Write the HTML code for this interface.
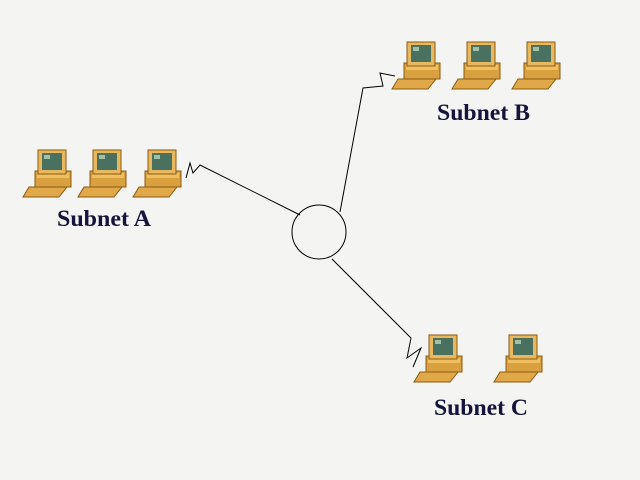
<!DOCTYPE html><html><head><style>body{margin:0;background:#f4f4f2}svg{display:block}text{font-family:"Liberation Serif",serif;font-weight:bold;font-size:23px;fill:#14143c}</style></head><body>
<svg width="640" height="480" viewBox="0 0 640 480">
<defs>
<g id="pc">
<rect x="-4" y="20" width="36" height="16" fill="#d9a040" stroke="#8a5a10" stroke-width="1"/>
<rect x="-2" y="22" width="32" height="5" fill="#f0c060"/>
<polygon points="-10,36 28,36 20,46 -16,46" fill="#e0a848" stroke="#8a5a10" stroke-width="1"/>
<rect x="-1" y="-1" width="28" height="24" fill="#e8b860" stroke="#8a5a10"/>
<rect x="3" y="2" width="20" height="17" fill="#4a7060"/>
<rect x="5" y="4" width="6" height="4" fill="#a0c0a8"/>
</g>
</defs>
<g fill="none" stroke="#000" stroke-width="1">
<circle cx="319" cy="232" r="27"/>
<polyline points="300,215 200,165 193,173 190,163 186,178"/>
<polyline points="340,212 363,88 383,86 380,73 395,76"/>
<polyline points="332,259 411,338 407,358 421,348 413,367"/>
</g>
<use href="#pc" x="39" y="151"/><use href="#pc" x="94" y="151"/><use href="#pc" x="149" y="151"/>
<use href="#pc" x="408" y="43"/><use href="#pc" x="468" y="43"/><use href="#pc" x="528" y="43"/>
<use href="#pc" x="430" y="336"/><use href="#pc" x="510" y="336"/>
<text x="57" y="226" textLength="94" lengthAdjust="spacingAndGlyphs">Subnet A</text>
<text x="437" y="120" textLength="93" lengthAdjust="spacingAndGlyphs">Subnet B</text>
<text x="434" y="415" textLength="94" lengthAdjust="spacingAndGlyphs">Subnet C</text>
</svg></body></html>
